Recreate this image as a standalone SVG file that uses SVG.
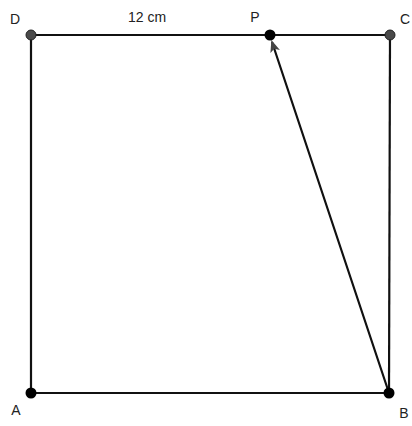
<svg xmlns="http://www.w3.org/2000/svg" width="412" height="426" viewBox="0 0 412 426">
<defs>
<style>
.edge{stroke:#111;stroke-width:2.2;fill:none}
.lbl{font-family:"Liberation Sans",Arial,sans-serif;font-size:14px;fill:#222}
.blk{fill:#000}
.gry{fill:#4a4a4a;stroke:#222;stroke-width:1}
</style>
<marker id="ah" viewBox="0 0 12 10" refX="10" refY="5" markerWidth="12" markerHeight="10" orient="auto" markerUnits="userSpaceOnUse">
<path d="M0,0 L12,5 L0,10 L3,5 z" fill="#444"/>
</marker>
</defs>
<rect width="412" height="426" fill="#fff"/>
<g id="connectors">
<line class="edge" x1="31" y1="35" x2="390" y2="35"/>
<line class="edge" x1="390" y1="35" x2="389" y2="393"/>
<line class="edge" x1="389" y1="393" x2="31" y2="393"/>
<line class="edge" x1="31" y1="393" x2="31" y2="35"/>
<line class="edge" x1="389" y1="393" x2="272" y2="42" marker-end="url(#ah)"/>
<text class="lbl" x="147" y="22" text-anchor="middle">12 cm</text>
</g>
<g id="D"><circle class="gry" cx="31" cy="35" r="5"/><text class="lbl" x="15" y="24" text-anchor="middle">D</text></g>
<g id="P"><circle class="blk" cx="270" cy="35" r="5.5"/><text class="lbl" x="255" y="22" text-anchor="middle">P</text></g>
<g id="C"><circle class="gry" cx="390" cy="35" r="5"/><text class="lbl" x="405" y="24" text-anchor="middle">C</text></g>
<g id="A"><circle class="blk" cx="31" cy="393" r="5.5"/><text class="lbl" x="16" y="415" text-anchor="middle">A</text></g>
<g id="B"><circle class="blk" cx="389" cy="393" r="5.5"/><text class="lbl" x="404" y="418" text-anchor="middle">B</text></g>
</svg>
